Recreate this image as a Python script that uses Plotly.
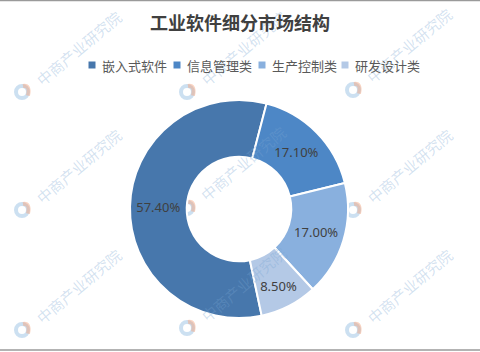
import plotly.graph_objects as go

# Market structure of industrial software segments (%)
categories = ["嵌入式软件", "信息管理类", "生产控制类", "研发设计类"]
shares = [57.4, 17.1, 17.0, 8.5]
colors = ["#4777AC", "#4D87C6", "#89B0DE", "#B4C9E6"]
title_text = "工业软件细分市场结构"
watermark_text = "中商产业研究院"

W, H = 480, 352


def px(x):
    return x / W


def py(y):
    return 1 - y / H


fig = go.Figure()

fig.add_trace(go.Pie(
    labels=categories,
    values=shares,
    sort=False,
    direction="clockwise",
    rotation=168,
    hole=0.48,
    marker=dict(colors=colors, line=dict(color="white", width=2)),
    texttemplate="%{value:.2f}%",
    textposition="inside",
    insidetextorientation="horizontal",
    textfont=dict(family="Noto Sans, sans-serif", size=13, color="#404040"),
    domain=dict(x=[px(130), px(348)], y=[py(318), py(100)]),
    showlegend=False,
    hoverinfo="label+percent",
))

shapes = []
annotations = []

# faint diagonal watermarks with a small ring logo
logo_centers = [(22, 92), (22, 210), (22, 330),
                (187, 92), (187, 208), (187, 328),
                (353, 90), (353, 210), (353, 330)]
for lx, ly in logo_centers:
    r = 6
    shapes.append(dict(type="circle", xref="paper", yref="paper",
                       x0=px(lx - r), x1=px(lx + r), y0=py(ly + r), y1=py(ly - r),
                       line=dict(color="rgba(110,165,215,0.35)", width=4), layer="below"))
    shapes.append(dict(type="path", xref="paper", yref="paper",
                       path=f"M {px(lx + 1)} {py(ly - r)} "
                            f"Q {px(lx + r * 1.4)} {py(ly - r * 1.2)} {px(lx + r)} {py(ly + r * 0.6)}",
                       line=dict(color="rgba(245,160,120,0.45)", width=4), layer="below"))
    annotations.append(dict(
        text=watermark_text, xref="paper", yref="paper",
        x=px(lx + 56), y=py(ly - 44), xanchor="center", yanchor="middle",
        textangle=-40, showarrow=False,
        font=dict(family="Noto Sans CJK SC, sans-serif", size=15,
                  color="rgba(120,165,210,0.32)"),
    ))

# legend row: small colour squares followed by the category names
legend_x = [92, 177, 262, 345]
legend_y = 65
for cx, name, col in zip(legend_x, categories, colors):
    shapes.append(dict(type="rect", xref="paper", yref="paper",
                       x0=px(cx - 3.5), x1=px(cx + 3.5),
                       y0=py(legend_y + 3.5), y1=py(legend_y - 3.5),
                       fillcolor=col, line=dict(width=0)))
    annotations.append(dict(
        text=name, xref="paper", yref="paper",
        x=px(cx + 8), y=py(legend_y), xanchor="left", yanchor="middle",
        showarrow=False,
        font=dict(family="Noto Sans CJK SC, sans-serif", size=13, color="#595959"),
    ))

# title
annotations.append(dict(
    text=f"<b>{title_text}</b>", xref="paper", yref="paper",
    x=0.5, y=py(22), xanchor="center", yanchor="middle", showarrow=False,
    font=dict(family="Noto Sans CJK SC, sans-serif", size=18, color="#404040"),
))

# thin frame lines at top and bottom
shapes.append(dict(type="line", xref="paper", yref="paper",
                   x0=0, x1=1, y0=py(0.5), y1=py(0.5),
                   line=dict(color="#9a9a9a", width=1.5)))
shapes.append(dict(type="line", xref="paper", yref="paper",
                   x0=0, x1=1, y0=py(350), y1=py(350),
                   line=dict(color="#9a9a9a", width=1.5)))

fig.update_layout(
    width=W, height=H,
    margin=dict(l=0, r=0, t=0, b=0),
    paper_bgcolor="white",
    plot_bgcolor="white",
    shapes=shapes,
    annotations=annotations,
)

fig.write_html("out.html")
